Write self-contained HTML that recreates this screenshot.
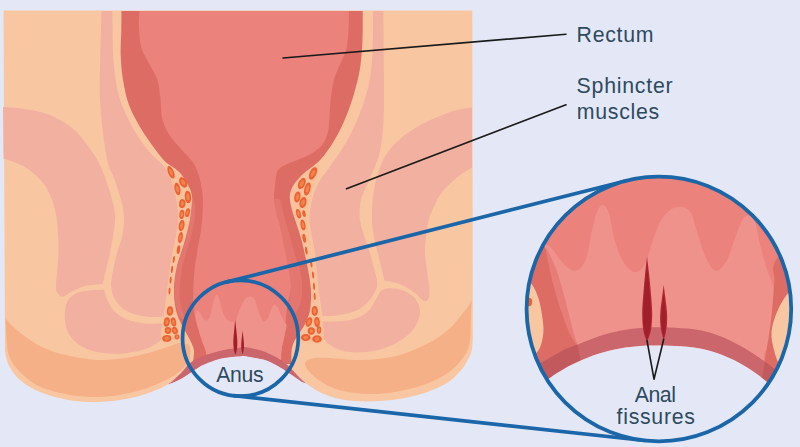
<!DOCTYPE html>
<html><head><meta charset="utf-8"><title>Anal fissures</title>
<style>
html,body{margin:0;padding:0;background:#e4e8f6;}
body{width:800px;height:447px;overflow:hidden;}
svg{display:block;}
text{font-family:"Liberation Sans",sans-serif;fill:#2d4a5e;}
</style></head><body>
<svg width="800" height="447" viewBox="0 0 800 447">
<defs>
<clipPath id="bigclip"><circle cx="658.9" cy="309" r="132.3"/></clipPath>
</defs>
<rect width="800" height="447" fill="#e4e8f6"/>
<g id="anat">
<path fill="#f9c6a2" d="M3.5,10.5L472.3,10.5L472.8,339.0C472.6,341.2 472.6,347.7 471.3,352.0C470.0,356.3 466.6,362.2 465.0,365.0C463.4,367.8 464.5,366.3 462.0,369.0C459.5,371.7 455.3,377.3 450.0,381.0C444.7,384.7 437.5,388.2 430.0,391.0C422.5,393.8 413.3,396.3 405.0,398.0C396.7,399.7 388.3,400.5 380.0,401.0C371.7,401.5 362.5,401.5 355.0,401.0C347.5,400.5 341.2,399.7 335.0,398.0C328.8,396.3 322.5,393.6 317.5,391.0C312.5,388.4 308.6,385.4 305.0,382.5C301.4,379.6 298.7,376.4 296.0,373.7C293.3,371.0 290.2,367.7 289.0,366.5L241.0,340.0L190.0,363.0C188.7,364.5 184.8,369.1 182.0,372.0C179.2,374.9 175.8,378.2 173.0,380.5C170.2,382.8 168.0,384.3 165.0,386.0C162.0,387.7 159.6,388.8 155.0,390.5C150.4,392.2 144.6,394.8 137.5,396.5C130.4,398.2 120.8,400.1 112.5,401.0C104.2,401.9 95.8,402.4 87.5,402.0C79.2,401.6 70.8,400.6 62.5,398.8C54.2,397.0 44.6,394.1 37.5,391.0C30.4,387.9 24.6,383.9 20.0,380.0C15.4,376.1 12.3,371.3 10.0,367.5C7.7,363.7 6.8,359.9 6.0,357.0C5.2,354.1 5.2,351.2 5.0,350.0L3.5,10.5Z"/>
<path fill="#f6b088" d="M5.4,318.6C7.5,320.7 12.9,326.8 18.0,331.0C23.1,335.2 29.8,340.2 35.8,343.7C41.8,347.1 47.7,349.6 53.7,351.7C59.7,353.8 66.4,355.0 71.6,356.2C76.8,357.4 80.3,358.0 85.0,358.6C89.7,359.2 93.3,360.1 100.0,360.0C106.7,359.9 116.7,359.2 125.0,358.0C133.3,356.8 142.5,354.5 150.0,352.5C157.5,350.5 163.8,348.2 170.0,346.0C176.2,343.8 184.6,340.6 187.5,339.5C188.0,341.2 190.2,346.6 190.5,350.0C190.8,353.4 189.7,358.3 189.5,360.0C188.8,361.0 186.6,364.2 185.0,366.0C183.4,367.8 182.5,369.0 180.0,371.0C177.5,373.0 174.2,375.7 170.0,378.0C165.8,380.3 160.4,382.8 155.0,385.0C149.6,387.2 144.6,389.2 137.5,391.0C130.4,392.8 120.8,395.0 112.5,396.0C104.2,397.0 95.8,397.2 87.5,396.8C79.2,396.4 70.8,395.5 62.5,393.6C54.2,391.7 44.2,388.8 37.5,385.5C30.8,382.2 26.2,377.9 22.0,374.0C17.8,370.1 14.3,365.7 12.0,362.0C9.7,358.3 8.9,356.0 8.0,352.0C7.1,348.0 6.8,340.3 6.5,338.0L5.4,318.6Z"/>
<path fill="#f6b088" d="M306.0,361.5C307.2,360.2 308.5,358.8 312.5,358.2C316.5,357.6 322.9,357.7 330.0,358.0C337.1,358.3 346.7,359.9 355.0,360.0C363.3,360.1 372.5,359.6 380.0,358.8C387.5,358.0 393.7,356.8 400.0,355.0C406.3,353.2 412.0,350.7 418.0,348.0C424.0,345.3 430.5,342.3 435.8,339.0C441.1,335.7 445.8,332.2 450.0,328.3C454.2,324.4 457.6,319.7 460.8,315.8C464.0,311.9 467.2,307.6 469.0,305.0C470.8,302.4 471.1,300.8 471.5,300.0C471.4,303.3 471.0,313.7 470.8,320.0C470.6,326.3 470.8,333.2 470.3,338.0C469.8,342.8 469.3,345.6 468.0,349.0C466.7,352.4 465.5,354.8 462.5,358.5C459.5,362.2 455.4,367.5 450.0,371.5C444.6,375.5 437.5,379.4 430.0,382.5C422.5,385.6 413.3,388.1 405.0,390.0C396.7,391.9 388.3,393.3 380.0,393.8C371.7,394.3 362.5,393.8 355.0,393.0C347.5,392.2 340.8,390.8 335.0,388.8C329.2,386.8 324.2,383.7 320.0,381.0C315.8,378.3 312.4,375.0 310.0,372.5C307.6,370.0 306.2,367.8 305.5,366.0C304.8,364.2 304.8,362.8 306.0,361.5Z"/>
<path fill="#f2b0a0" d="M3.0,107.0C6.7,107.3 17.2,107.7 25.0,109.0C32.8,110.3 42.2,111.8 50.0,115.0C57.8,118.2 66.2,123.5 72.0,128.0C77.8,132.5 80.5,136.2 85.0,142.0C89.5,147.8 95.2,155.7 99.0,163.0C102.8,170.3 105.6,178.8 108.0,186.0C110.4,193.2 112.4,200.2 113.6,206.0C114.8,211.8 115.6,213.2 115.0,221.0C114.4,228.8 111.8,243.8 110.0,253.0C108.2,262.2 105.7,270.8 104.5,276.0C103.3,281.2 103.2,282.7 103.0,284.0C100.3,284.3 92.2,284.4 87.0,285.6C81.8,286.9 75.5,289.9 72.0,291.5C68.5,293.1 67.8,294.4 66.0,295.3C64.2,296.2 62.8,296.9 61.5,296.6C60.2,296.3 58.9,295.3 58.0,293.5C57.1,291.7 55.9,292.8 56.0,286.0C56.1,279.2 58.3,263.8 58.5,253.0C58.7,242.2 58.1,229.8 57.0,221.0C55.9,212.2 54.3,206.3 52.0,200.0C49.7,193.7 47.5,188.5 43.0,183.0C38.5,177.5 31.6,171.1 25.0,167.0C18.4,162.9 7.1,159.9 3.5,158.5L3.0,107.0Z"/>
<path fill="#f2b0a0" d="M101.5,11.0L112.3,11.0C112.3,14.2 112.4,21.7 112.6,30.0C112.8,38.3 112.6,50.5 113.5,61.0C114.4,71.5 115.7,83.2 118.0,92.7C120.3,102.2 123.9,110.0 127.6,117.8C131.3,125.6 135.8,133.4 140.0,139.7C144.2,146.0 148.8,151.0 152.7,155.4C156.6,159.8 160.8,162.4 163.7,166.0C166.6,169.6 168.2,173.0 170.0,177.0C171.8,181.0 173.2,185.2 174.5,190.0C175.8,194.8 176.9,200.8 177.5,206.0C178.1,211.2 178.2,215.8 178.0,221.0C177.8,226.2 176.9,231.7 176.0,237.0C175.1,242.3 173.5,247.8 172.5,253.0C171.5,258.2 170.8,262.8 170.0,268.0C169.2,273.2 168.7,278.7 168.0,284.0C167.3,289.3 166.6,294.6 166.0,300.0C165.4,305.4 164.8,313.8 164.5,316.5C162.0,316.6 154.8,317.4 149.7,317.0C144.6,316.6 138.7,315.6 134.0,314.0C129.3,312.4 124.9,310.3 121.5,307.5C118.1,304.7 115.5,300.6 113.7,297.0C112.0,293.4 111.5,287.8 111.0,286.0C111.2,284.3 111.0,281.5 112.0,276.0C113.0,270.5 115.3,259.5 117.0,253.0C118.7,246.5 120.8,242.3 122.0,237.0C123.2,231.7 123.9,226.2 124.0,221.0C124.1,215.8 123.5,211.2 122.5,206.0C121.5,200.8 119.5,194.8 118.0,190.0C116.5,185.2 115.1,181.0 113.6,177.0C112.1,173.0 110.1,170.2 108.8,166.0C107.5,161.8 106.8,159.0 105.7,152.0C104.6,145.0 103.0,133.9 102.0,124.0C101.0,114.1 99.9,103.2 99.6,92.7C99.3,82.2 100.0,71.5 100.2,61.0C100.4,50.5 100.8,38.3 101.0,30.0C101.2,21.7 101.4,14.2 101.5,11.0Z"/>
<path fill="#f2b0a0" d="M64.8,315.0C64.8,310.1 65.4,305.2 67.4,301.5C69.4,297.8 73.0,294.8 76.8,293.0C80.6,291.2 85.5,291.1 90.0,290.5C94.5,289.9 101.7,289.7 104.0,289.5C104.5,291.1 105.3,295.4 107.0,299.0C108.7,302.6 110.7,307.6 114.0,311.0C117.3,314.4 121.8,317.4 127.0,319.5C132.2,321.6 139.3,322.8 145.0,323.5C150.7,324.2 157.8,323.4 161.0,323.6C164.2,323.9 163.5,324.8 164.0,325.0C164.1,326.4 165.6,330.7 164.5,333.7C163.4,336.7 161.3,340.2 157.4,343.0C153.5,345.8 148.0,348.5 141.3,350.3C134.6,352.1 125.0,353.7 117.0,353.8C109.0,353.9 99.7,352.8 93.0,351.0C86.3,349.2 81.1,346.3 76.8,343.0C72.5,339.7 69.4,335.7 67.4,331.0C65.4,326.3 64.8,319.9 64.8,315.0Z"/>
<path fill="#f2b0a0" d="M472.0,107.5C469.4,107.9 462.9,108.2 456.7,110.0C450.5,111.8 441.6,115.1 434.8,118.0C428.0,120.9 422.3,123.6 416.0,127.6C409.7,131.5 402.1,137.0 397.0,141.7C391.9,146.4 388.6,150.8 385.5,155.8C382.4,160.8 380.3,166.3 378.5,171.5C376.7,176.7 375.5,181.8 374.5,187.0C373.5,192.2 372.9,197.3 372.5,203.0C372.1,208.7 371.8,215.3 372.0,221.0C372.2,226.7 373.0,231.7 374.0,237.0C375.0,242.3 376.5,247.5 377.8,253.0C379.1,258.5 380.9,265.4 382.0,270.0C383.1,274.6 384.1,278.8 384.5,280.5C387.0,281.1 394.6,281.9 399.7,284.0C404.8,286.1 411.4,290.5 415.0,293.0C418.6,295.5 419.2,297.6 421.0,299.0C422.8,300.4 424.2,301.5 425.5,301.3C426.8,301.1 427.9,299.9 428.6,298.0C429.3,296.1 429.6,293.3 429.5,290.0C429.4,286.7 428.8,284.2 428.0,278.0C427.2,271.8 425.3,259.8 425.0,253.0C424.7,246.2 425.4,242.3 426.0,237.0C426.6,231.7 427.6,225.2 428.5,221.0C429.4,216.8 429.5,216.6 431.6,212.0C433.7,207.4 436.8,199.1 441.0,193.4C445.2,187.7 451.5,182.1 456.7,177.8C461.9,173.5 469.4,169.2 472.0,167.5L472.0,107.5Z"/>
<path fill="#f2b0a0" d="M373.0,11.0L383.4,11.0C383.4,15.8 383.5,26.4 383.6,40.0C383.7,53.6 384.0,78.7 384.0,92.7C384.0,106.7 383.9,115.3 383.4,124.0C382.9,132.7 382.0,139.0 381.0,145.0C380.0,151.0 379.8,153.5 377.5,160.0C375.2,166.5 370.1,177.3 367.4,184.0C364.6,190.7 362.3,194.8 361.0,200.0C359.7,205.2 359.4,210.5 359.5,215.0C359.6,219.5 360.5,222.8 361.5,227.0C362.5,231.2 364.1,235.7 365.5,240.0C366.9,244.3 368.6,248.3 370.0,253.0C371.4,257.7 372.8,263.5 374.0,268.0C375.2,272.5 376.5,276.8 377.0,280.0C377.5,283.2 377.0,285.8 377.0,287.0C376.2,288.7 374.3,293.8 372.0,297.0C369.7,300.2 366.2,304.0 363.0,306.5C359.8,309.0 357.0,310.5 352.7,312.0C348.4,313.5 342.0,314.8 337.0,315.5C332.0,316.2 324.9,315.9 322.5,316.0C322.1,313.3 320.8,305.3 320.0,300.0C319.2,294.7 318.6,289.3 318.0,284.0C317.4,278.7 317.0,273.2 316.5,268.0C316.0,262.8 315.8,258.2 315.0,253.0C314.2,247.8 312.9,242.3 312.0,237.0C311.1,231.7 309.8,225.8 309.5,221.0C309.2,216.2 309.8,212.7 310.5,208.0C311.2,203.3 312.4,197.7 314.0,193.0C315.6,188.3 317.7,183.8 320.0,180.0C322.3,176.2 324.3,174.7 327.6,170.0C330.9,165.3 336.1,158.1 340.0,152.0C343.9,145.9 347.6,140.2 351.0,133.4C354.4,126.7 357.6,119.3 360.5,111.5C363.4,103.7 366.5,94.8 368.4,86.4C370.3,78.0 371.2,70.4 372.0,61.0C372.8,51.6 372.8,38.3 373.0,30.0C373.2,21.7 373.0,14.2 373.0,11.0Z"/>
<path fill="#f2b0a0" d="M322.5,321.5C324.3,321.5 328.4,321.8 333.4,321.5C338.3,321.2 346.6,321.0 352.2,319.5C357.8,318.0 363.2,315.6 367.0,312.5C370.8,309.4 372.8,304.4 375.0,301.0C377.2,297.6 378.6,293.9 380.0,292.0C381.4,290.1 382.9,289.9 383.5,289.5C384.8,289.3 387.7,288.0 391.0,288.2C394.3,288.4 399.1,288.7 403.2,290.5C407.2,292.3 412.5,295.2 415.3,298.8C418.1,302.4 420.2,307.3 420.0,312.2C419.8,317.1 417.2,323.6 414.0,328.3C410.8,333.0 406.3,336.8 400.5,340.4C394.7,344.0 386.6,347.8 379.0,349.8C371.4,351.8 362.2,352.7 355.0,352.5C347.8,352.3 341.2,350.8 336.0,348.5C330.8,346.2 326.4,342.4 324.0,339.0C321.6,335.6 321.6,330.9 321.3,328.0C321.1,325.1 322.3,322.6 322.5,321.5Z"/>
<path fill="#f9c29c" d="M165.0,164.5C166.7,165.4 171.7,167.4 175.0,170.0C178.3,172.6 181.7,175.8 185.0,180.0C188.3,184.2 193.2,189.2 195.0,195.0C196.8,200.8 196.8,207.5 196.0,215.0C195.2,222.5 192.0,232.5 190.0,240.0C188.0,247.5 185.7,253.3 184.0,260.0C182.3,266.7 180.7,273.3 180.0,280.0C179.3,286.7 179.3,293.7 180.0,300.0C180.7,306.3 182.7,312.7 184.0,318.0C185.3,323.3 187.0,327.5 188.0,332.0C189.0,336.5 189.7,342.8 190.0,345.0C188.5,344.7 184.0,343.2 181.0,343.0C178.0,342.8 175.1,343.8 172.0,343.6C168.9,343.4 164.1,343.8 162.3,342.0C160.5,340.2 160.8,337.1 161.0,333.0C161.2,328.9 162.6,323.1 163.4,317.6C164.2,312.1 165.2,305.6 166.0,300.0C166.8,294.4 167.3,289.3 168.0,284.0C168.7,278.7 169.2,273.2 170.0,268.0C170.8,262.8 171.5,258.2 172.5,253.0C173.5,247.8 175.1,242.3 176.0,237.0C176.9,231.7 177.8,226.2 178.0,221.0C178.2,215.8 178.1,211.2 177.5,206.0C176.9,200.8 175.8,194.8 174.5,190.0C173.2,185.2 171.6,181.2 170.0,177.0C168.4,172.8 165.8,166.6 165.0,164.5Z"/>
<path fill="#f9c29c" d="M320.0,164.0C319.6,165.9 318.8,170.8 317.5,175.7C316.2,180.6 313.4,188.0 312.0,193.6C310.6,199.2 309.4,203.4 309.0,209.0C308.6,214.6 309.0,221.8 309.5,227.0C310.0,232.2 311.2,235.3 312.0,240.0C312.8,244.7 313.8,250.3 314.5,255.0C315.2,259.7 315.5,263.2 316.0,268.0C316.5,272.8 317.0,278.7 317.5,284.0C318.0,289.3 318.5,295.2 319.0,300.0C319.5,304.8 319.7,308.2 320.5,313.0C321.3,317.8 323.3,324.2 323.6,329.0C323.9,333.8 324.4,339.6 322.5,342.0C320.6,344.4 315.9,343.6 312.0,343.6C308.1,343.6 301.2,342.3 299.0,342.0C298.3,340.0 294.8,334.5 295.0,330.0C295.2,325.5 298.5,320.0 300.0,315.0C301.5,310.0 303.3,305.8 304.0,300.0C304.7,294.2 304.7,286.7 304.0,280.0C303.3,273.3 301.5,266.7 300.0,260.0C298.5,253.3 297.0,246.7 295.0,240.0C293.0,233.3 289.7,226.7 288.0,220.0C286.3,213.3 285.0,205.8 285.0,200.0C285.0,194.2 285.5,189.7 288.0,185.0C290.5,180.3 294.7,175.5 300.0,172.0C305.3,168.5 316.7,165.3 320.0,164.0Z"/>
<path fill="#dd6c64" d="M121.5,11.0C121.5,14.2 121.4,22.7 121.3,30.0C121.2,37.3 120.4,46.7 120.7,55.0C121.0,63.3 121.6,71.7 123.0,80.0C124.4,88.3 126.2,97.2 129.0,105.0C131.8,112.8 136.1,120.2 140.0,127.0C143.9,133.8 148.5,140.2 152.7,146.0C156.9,151.8 161.3,157.8 165.0,161.5C168.7,165.2 172.1,166.1 175.0,168.5C177.9,170.9 179.9,172.2 182.5,176.0C185.1,179.8 189.2,186.2 190.8,191.0C192.4,195.8 192.5,199.8 192.3,205.0C192.1,210.2 190.7,216.2 189.5,222.0C188.3,227.8 186.4,234.8 185.0,240.0C183.6,245.2 182.2,249.0 181.0,253.0C179.8,257.0 178.5,260.0 177.5,264.0C176.5,268.0 175.6,272.7 175.0,277.0C174.4,281.3 174.0,285.3 174.0,290.0C174.0,294.7 174.2,300.3 175.0,305.0C175.8,309.7 176.9,313.8 178.5,318.0C180.1,322.2 182.5,326.2 184.5,330.0C186.5,333.8 188.9,337.5 190.5,341.0C192.1,344.5 193.7,347.2 194.0,351.0C194.3,354.8 192.8,361.8 192.5,364.0L291.5,364.0C291.5,362.0 291.2,355.5 291.5,352.0C291.8,348.5 292.2,346.2 293.5,343.0C294.8,339.8 297.5,336.3 299.5,333.0C301.5,329.7 303.8,326.8 305.5,323.0C307.2,319.2 309.1,315.2 310.0,310.0C310.9,304.8 311.2,297.8 311.0,292.0C310.8,286.2 310.0,281.2 309.0,275.0C308.0,268.8 306.2,260.5 305.0,255.0C303.8,249.5 303.1,246.2 302.0,242.0C300.9,237.8 299.8,234.0 298.5,230.0C297.2,226.0 295.7,221.7 294.5,218.0C293.3,214.3 292.3,211.7 291.5,208.0C290.7,204.3 289.5,199.8 289.8,196.0C290.1,192.2 291.2,188.7 293.5,185.0C295.8,181.3 300.4,176.6 303.5,173.6C306.6,170.6 309.1,169.4 312.0,167.0C314.9,164.6 317.9,162.5 321.0,159.0C324.1,155.5 327.6,150.8 330.8,146.0C334.0,141.2 337.1,135.8 340.0,130.0C342.9,124.2 345.6,117.7 348.0,111.5C350.4,105.3 352.4,99.5 354.3,92.7C356.2,85.9 358.3,78.1 359.6,70.8C360.9,63.5 361.5,55.6 362.0,48.8C362.5,42.0 362.6,36.3 362.7,30.0C362.8,23.7 362.7,14.2 362.7,11.0L121.5,11.0Z"/>
<path fill="#e3776f" d="M192.3,200.0C191.5,202.7 191.1,214.3 190.0,221.0C188.9,227.7 186.9,234.7 185.5,240.0C184.1,245.3 182.8,249.0 181.5,253.0C180.2,257.0 179.0,260.0 178.0,264.0C177.0,268.0 176.1,272.7 175.5,277.0C174.9,281.3 174.4,285.3 174.5,290.0C174.6,294.7 175.1,300.3 176.0,305.0C176.9,309.7 179.3,315.8 180.0,318.0C180.8,318.0 184.4,320.5 184.5,318.0C184.6,315.5 181.3,307.7 180.5,303.0C179.7,298.3 179.4,294.7 179.5,290.0C179.6,285.3 180.3,279.7 181.0,275.0C181.7,270.3 182.5,266.2 183.5,262.0C184.5,257.8 185.8,254.2 187.0,250.0C188.2,245.8 189.8,242.0 191.0,237.0C192.2,232.0 193.8,225.3 194.5,220.0C195.2,214.7 195.4,208.3 195.0,205.0C194.6,201.7 193.1,197.3 192.3,200.0Z"/>
<path fill="#e3776f" d="M273.0,200.0C272.3,202.0 274.8,207.7 276.0,212.0C277.2,216.3 278.8,221.3 280.0,226.0C281.2,230.7 282.0,235.2 283.0,240.0C284.0,244.8 285.0,250.0 286.0,255.0C287.0,260.0 288.2,265.0 289.0,270.0C289.8,275.0 290.8,280.3 291.0,285.0C291.2,289.7 290.5,294.2 290.0,298.0C289.5,301.8 288.3,306.3 288.0,308.0C289.3,308.7 293.8,313.3 296.0,312.0C298.2,310.7 300.0,304.5 301.0,300.0C302.0,295.5 302.2,290.0 302.0,285.0C301.8,280.0 301.2,275.0 300.0,270.0C298.8,265.0 296.5,260.0 295.0,255.0C293.5,250.0 292.3,244.8 291.0,240.0C289.7,235.2 288.3,230.7 287.0,226.0C285.7,221.3 284.2,216.3 283.0,212.0C281.8,207.7 281.7,202.0 280.0,200.0C278.3,198.0 273.7,198.0 273.0,200.0Z"/>
<path fill="#eb827b" d="M139.5,11.0C139.4,14.2 138.6,23.7 139.0,30.0C139.4,36.3 139.9,43.0 141.7,48.8C143.5,54.5 147.0,59.3 149.6,64.5C152.2,69.7 155.6,74.2 157.4,80.0C159.2,85.8 159.7,92.7 160.5,99.0C161.3,105.3 160.7,112.1 162.0,117.8C163.3,123.5 165.2,128.2 168.4,133.4C171.6,138.6 177.0,144.3 181.0,149.0C185.0,153.7 189.7,157.7 192.5,161.7C195.3,165.7 196.5,168.8 198.0,173.0C199.5,177.2 200.7,182.5 201.5,187.0C202.3,191.5 202.8,195.3 203.0,200.0C203.2,204.7 202.8,210.0 202.5,215.0C202.2,220.0 201.8,224.2 201.0,230.0C200.2,235.8 198.6,243.3 197.5,250.0C196.4,256.7 195.2,263.3 194.5,270.0C193.8,276.7 193.5,284.2 193.3,290.0C193.1,295.8 192.9,300.0 193.3,305.0C193.7,310.0 194.1,314.0 195.5,320.0C196.9,326.0 200.2,335.7 202.0,341.0C203.8,346.3 205.2,348.2 206.0,352.0C206.8,355.8 206.8,362.0 207.0,364.0L281.0,364.0C281.1,361.6 281.0,354.3 281.6,349.5C282.2,344.7 283.8,341.4 284.6,335.0C285.4,328.6 286.0,316.8 286.6,311.0C287.2,305.2 287.8,304.0 288.5,300.0C289.2,296.0 290.9,292.0 291.0,287.0C291.1,282.0 289.8,275.3 289.0,270.0C288.2,264.7 287.0,260.0 286.0,255.0C285.0,250.0 284.0,244.8 283.0,240.0C282.0,235.2 281.2,230.7 280.0,226.0C278.8,221.3 277.0,216.3 276.0,212.0C275.0,207.7 274.2,204.3 274.0,200.0C273.8,195.7 274.4,190.8 275.0,186.0C275.6,181.2 275.9,174.4 277.5,171.0C279.1,167.6 281.4,167.1 284.3,165.4C287.2,163.7 291.4,162.5 295.0,161.0C298.6,159.5 302.3,158.2 305.8,156.5C309.3,154.8 313.0,152.8 316.0,150.5C319.0,148.2 321.9,145.9 324.0,142.5C326.1,139.1 327.4,134.6 328.3,130.0C329.2,125.4 329.2,120.2 329.6,115.0C330.0,109.8 330.1,104.8 330.8,99.0C331.5,93.2 332.5,85.8 334.0,80.0C335.5,74.2 337.9,69.7 340.0,64.5C342.1,59.3 345.0,54.5 346.4,48.8C347.8,43.0 348.1,36.3 348.5,30.0C348.9,23.7 348.9,14.2 349.0,11.0L139.5,11.0Z"/>
<path fill="#ef928b" d="M207.0,364.0C206.8,362.0 206.8,355.8 206.0,352.0C205.2,348.2 203.4,345.5 202.0,341.0C200.6,336.5 198.6,329.3 197.5,325.0C196.4,320.7 195.6,317.4 195.5,315.0C195.4,312.6 196.2,310.8 197.0,310.5C197.8,310.2 199.0,311.8 200.0,313.0C201.0,314.2 202.0,316.8 203.0,318.0C204.0,319.2 204.9,320.5 206.0,320.5C207.1,320.5 208.5,320.1 209.5,318.0C210.5,315.9 211.2,311.2 212.0,308.0C212.8,304.8 213.3,301.2 214.0,299.0C214.7,296.8 215.6,295.2 216.4,295.0C217.2,294.8 218.2,295.8 219.0,298.0C219.8,300.2 220.6,305.0 221.5,308.0C222.4,311.0 223.4,313.9 224.5,316.0C225.6,318.1 226.8,319.5 228.0,320.5C229.2,321.5 230.7,322.2 232.0,322.0C233.3,321.8 234.7,321.2 236.0,319.0C237.3,316.8 238.7,312.1 240.0,309.0C241.3,305.9 242.7,302.5 244.0,300.5C245.3,298.5 246.8,297.6 248.0,297.0C249.2,296.4 250.3,296.5 251.5,297.0C252.7,297.5 253.9,297.8 255.0,300.0C256.1,302.2 257.0,307.0 258.0,310.0C259.0,313.0 260.0,316.1 261.0,318.0C262.0,319.9 262.8,321.5 264.0,321.5C265.2,321.5 266.8,319.9 268.0,318.0C269.2,316.1 270.2,312.1 271.0,310.0C271.8,307.9 272.2,306.3 273.0,305.5C273.8,304.7 274.7,304.6 275.5,305.0C276.3,305.4 277.1,306.3 278.0,308.0C278.9,309.7 279.9,312.7 281.0,315.0C282.1,317.3 283.6,320.2 284.5,322.0C285.4,323.8 286.6,323.8 286.6,326.0C286.6,328.2 285.4,331.1 284.6,335.0C283.8,338.9 282.2,344.7 281.6,349.5C281.0,354.3 281.1,361.6 281.0,364.0L207.0,364.0Z"/>
<path fill="#cb666c" d="M168.0,384.5C168.8,383.8 170.7,382.6 173.0,380.5C175.3,378.4 179.2,374.9 182.0,372.0C184.8,369.1 186.4,365.7 190.0,363.0C193.6,360.3 198.4,357.9 203.7,355.8C209.0,353.7 215.4,351.8 221.6,350.4C227.8,349.0 236.6,347.9 241.0,347.4C245.4,346.9 243.9,346.7 248.0,347.5C252.1,348.3 260.5,350.2 265.8,352.2C271.1,354.2 276.1,357.0 280.0,359.4C283.9,361.8 286.3,364.1 289.0,366.5C291.7,368.9 294.0,371.6 296.0,373.7C298.0,375.8 299.3,377.4 301.0,379.0C302.7,380.6 305.2,382.8 306.0,383.5C305.2,383.2 303.3,383.0 301.5,382.0C299.7,381.0 297.1,378.9 295.0,377.5C292.9,376.1 291.5,375.1 289.0,373.5C286.5,371.9 283.9,369.8 280.0,367.6C276.1,365.4 271.1,362.3 265.8,360.5C260.5,358.7 252.1,357.6 248.0,356.9C243.9,356.2 245.4,356.1 241.0,356.4C236.6,356.7 227.8,357.3 221.6,358.7C215.4,360.1 208.2,363.0 203.7,364.9C199.2,366.8 197.7,368.3 194.7,370.2C191.7,372.1 188.8,374.3 185.8,376.2C182.8,378.1 179.8,379.9 176.8,381.3C173.8,382.7 169.5,384.0 168.0,384.5Z"/>
<path fill="#e4e8f6" d="M155.0,391.5L168.0,384.8C169.5,384.2 173.8,382.6 176.8,381.1C179.8,379.6 182.8,377.9 185.8,376.0C188.8,374.1 191.7,371.9 194.7,370.0C197.7,368.1 199.2,366.6 203.7,364.7C208.2,362.8 215.4,359.9 221.6,358.5C227.8,357.1 236.6,356.5 241.0,356.2C245.4,355.9 243.9,356.0 248.0,356.7C252.1,357.4 260.5,358.5 265.8,360.3C271.1,362.1 276.1,365.2 280.0,367.4C283.9,369.6 286.5,371.6 289.0,373.3C291.5,375.0 292.9,375.9 295.0,377.3C297.1,378.7 299.7,380.7 301.5,381.8C303.3,382.9 305.2,383.5 306.0,383.8L318.0,392.0L318.0,410.0L164.0,410.0L155.0,391.5Z"/>
<path fill="#a01f2a" d="M235.2,319.0C235.3,320.5 235.8,324.8 236.1,328.0C236.4,331.2 236.9,335.2 237.1,338.0C237.3,340.8 237.4,342.8 237.3,345.0C237.2,347.2 236.9,349.3 236.6,351.0C236.3,352.7 235.6,354.3 235.4,355.0C235.2,354.3 234.5,352.7 234.2,351.0C233.9,349.3 233.5,347.2 233.4,345.0C233.3,342.8 233.3,340.8 233.5,338.0C233.7,335.2 234.1,331.2 234.4,328.0C234.7,324.8 235.1,320.5 235.2,319.0Z"/>
<path fill="#a01f2a" d="M242.6,330.5C242.7,331.6 243.1,334.9 243.3,337.0C243.5,339.1 243.8,341.2 243.9,343.0C244.0,344.8 244.0,346.5 243.9,348.0C243.8,349.5 243.5,350.9 243.3,352.0C243.1,353.1 242.7,354.1 242.6,354.5C242.5,354.1 242.1,353.1 241.9,352.0C241.7,350.9 241.4,349.5 241.3,348.0C241.2,346.5 241.2,344.8 241.3,343.0C241.4,341.2 241.7,339.1 241.9,337.0C242.1,334.9 242.5,331.6 242.6,330.5Z"/>
<g fill="#ec6232"><ellipse cx="171.0" cy="172.3" rx="2.9" ry="6.7" transform="rotate(-22 171.0 172.3)"/><ellipse cx="177.4" cy="189.0" rx="2.9" ry="6.3" transform="rotate(-12 177.4 189.0)"/><ellipse cx="183.2" cy="182.4" rx="3.6" ry="5.6" transform="rotate(-28 183.2 182.4)"/><ellipse cx="188.0" cy="197.0" rx="3.2" ry="6.3" transform="rotate(-6 188.0 197.0)"/><ellipse cx="182.3" cy="203.6" rx="3.2" ry="4.5" transform="rotate(8 182.3 203.6)"/><ellipse cx="187.6" cy="212.6" rx="2.3" ry="4.5" transform="rotate(14 187.6 212.6)"/><ellipse cx="181.8" cy="214.4" rx="2.5" ry="4.7" transform="rotate(8 181.8 214.4)"/><ellipse cx="181.6" cy="225.6" rx="2.9" ry="5.6" transform="rotate(10 181.6 225.6)"/><ellipse cx="180.5" cy="237.6" rx="2.3" ry="5.6" transform="rotate(10 180.5 237.6)"/><ellipse cx="178.5" cy="249.6" rx="1.7" ry="4.5" transform="rotate(8 178.5 249.6)"/><ellipse cx="173.8" cy="259.5" rx="1.0" ry="3.6" transform="rotate(8 173.8 259.5)"/><ellipse cx="172.0" cy="269.4" rx="1.0" ry="3.6" transform="rotate(6 172.0 269.4)"/><ellipse cx="170.6" cy="280.0" rx="1.0" ry="3.6" transform="rotate(4 170.6 280.0)"/><ellipse cx="169.5" cy="291.0" rx="1.0" ry="3.6" transform="rotate(3 169.5 291.0)"/><ellipse cx="170.0" cy="311.0" rx="3.2" ry="4.7" transform="rotate(5 170.0 311.0)"/><ellipse cx="166.8" cy="322.0" rx="3.0" ry="4.7" transform="rotate(10 166.8 322.0)"/><ellipse cx="173.5" cy="322.0" rx="2.6" ry="4.7" transform="rotate(-12 173.5 322.0)"/><ellipse cx="168.0" cy="330.5" rx="3.3" ry="3.4" transform="rotate(0 168.0 330.5)"/><ellipse cx="174.8" cy="330.5" rx="2.9" ry="3.8" transform="rotate(-20 174.8 330.5)"/><ellipse cx="166.8" cy="338.4" rx="4.6" ry="3.4" transform="rotate(-5 166.8 338.4)"/><ellipse cx="177.0" cy="336.8" rx="2.5" ry="2.6" transform="rotate(0 177.0 336.8)"/><ellipse cx="313.0" cy="173.4" rx="3.4" ry="6.7" transform="rotate(25 313.0 173.4)"/><ellipse cx="301.8" cy="183.5" rx="3.4" ry="6.0" transform="rotate(25 301.8 183.5)"/><ellipse cx="307.4" cy="189.0" rx="3.1" ry="6.7" transform="rotate(15 307.4 189.0)"/><ellipse cx="297.4" cy="197.0" rx="3.1" ry="5.6" transform="rotate(10 297.4 197.0)"/><ellipse cx="303.0" cy="202.5" rx="3.4" ry="5.6" transform="rotate(15 303.0 202.5)"/><ellipse cx="298.5" cy="213.7" rx="2.3" ry="4.9" transform="rotate(-15 298.5 213.7)"/><ellipse cx="304.0" cy="213.7" rx="1.7" ry="3.4" transform="rotate(-10 304.0 213.7)"/><ellipse cx="303.0" cy="225.0" rx="2.5" ry="5.6" transform="rotate(-10 303.0 225.0)"/><ellipse cx="304.2" cy="238.3" rx="1.7" ry="4.5" transform="rotate(-10 304.2 238.3)"/><ellipse cx="306.3" cy="250.6" rx="1.2" ry="4.0" transform="rotate(-8 306.3 250.6)"/><ellipse cx="311.3" cy="264.0" rx="1.0" ry="3.6" transform="rotate(-8 311.3 264.0)"/><ellipse cx="313.0" cy="275.0" rx="1.0" ry="3.6" transform="rotate(-6 313.0 275.0)"/><ellipse cx="314.0" cy="286.3" rx="1.0" ry="3.6" transform="rotate(-4 314.0 286.3)"/><ellipse cx="314.7" cy="296.4" rx="1.0" ry="3.6" transform="rotate(-3 314.7 296.4)"/><ellipse cx="314.7" cy="311.0" rx="3.2" ry="5.0" transform="rotate(0 314.7 311.0)"/><ellipse cx="309.0" cy="322.0" rx="3.1" ry="5.0" transform="rotate(20 309.0 322.0)"/><ellipse cx="317.0" cy="322.0" rx="2.8" ry="5.0" transform="rotate(-5 317.0 322.0)"/><ellipse cx="311.3" cy="331.0" rx="3.6" ry="3.7" transform="rotate(0 311.3 331.0)"/><ellipse cx="319.0" cy="330.0" rx="2.3" ry="3.7" transform="rotate(0 319.0 330.0)"/><ellipse cx="305.7" cy="337.5" rx="4.8" ry="3.4" transform="rotate(0 305.7 337.5)"/><ellipse cx="317.0" cy="339.0" rx="4.8" ry="3.7" transform="rotate(0 317.0 339.0)"/></g><g fill="#f3824c"><ellipse cx="171.0" cy="172.3" rx="1.4" ry="3.7" transform="rotate(-22 171.0 172.3)"/><ellipse cx="177.4" cy="189.0" rx="1.4" ry="3.4" transform="rotate(-12 177.4 189.0)"/><ellipse cx="183.2" cy="182.4" rx="1.8" ry="3.1" transform="rotate(-28 183.2 182.4)"/><ellipse cx="188.0" cy="197.0" rx="1.6" ry="3.4" transform="rotate(-6 188.0 197.0)"/><ellipse cx="182.3" cy="203.6" rx="1.6" ry="2.5" transform="rotate(8 182.3 203.6)"/><ellipse cx="187.6" cy="212.6" rx="1.1" ry="2.5" transform="rotate(14 187.6 212.6)"/><ellipse cx="181.8" cy="214.4" rx="1.3" ry="2.6" transform="rotate(8 181.8 214.4)"/><ellipse cx="181.6" cy="225.6" rx="1.4" ry="3.1" transform="rotate(10 181.6 225.6)"/><ellipse cx="180.5" cy="237.6" rx="1.1" ry="3.1" transform="rotate(10 180.5 237.6)"/><ellipse cx="170.0" cy="311.0" rx="1.6" ry="2.6" transform="rotate(5 170.0 311.0)"/><ellipse cx="166.8" cy="322.0" rx="1.5" ry="2.6" transform="rotate(10 166.8 322.0)"/><ellipse cx="173.5" cy="322.0" rx="1.3" ry="2.6" transform="rotate(-12 173.5 322.0)"/><ellipse cx="168.0" cy="330.5" rx="1.7" ry="1.8" transform="rotate(0 168.0 330.5)"/><ellipse cx="174.8" cy="330.5" rx="1.4" ry="2.1" transform="rotate(-20 174.8 330.5)"/><ellipse cx="166.8" cy="338.4" rx="2.3" ry="1.8" transform="rotate(-5 166.8 338.4)"/><ellipse cx="177.0" cy="336.8" rx="1.3" ry="1.4" transform="rotate(0 177.0 336.8)"/><ellipse cx="313.0" cy="173.4" rx="1.7" ry="3.7" transform="rotate(25 313.0 173.4)"/><ellipse cx="301.8" cy="183.5" rx="1.7" ry="3.3" transform="rotate(25 301.8 183.5)"/><ellipse cx="307.4" cy="189.0" rx="1.6" ry="3.7" transform="rotate(15 307.4 189.0)"/><ellipse cx="297.4" cy="197.0" rx="1.6" ry="3.1" transform="rotate(10 297.4 197.0)"/><ellipse cx="303.0" cy="202.5" rx="1.7" ry="3.1" transform="rotate(15 303.0 202.5)"/><ellipse cx="298.5" cy="213.7" rx="1.1" ry="2.7" transform="rotate(-15 298.5 213.7)"/><ellipse cx="303.0" cy="225.0" rx="1.3" ry="3.1" transform="rotate(-10 303.0 225.0)"/><ellipse cx="314.7" cy="311.0" rx="1.6" ry="2.8" transform="rotate(0 314.7 311.0)"/><ellipse cx="309.0" cy="322.0" rx="1.6" ry="2.8" transform="rotate(20 309.0 322.0)"/><ellipse cx="317.0" cy="322.0" rx="1.4" ry="2.8" transform="rotate(-5 317.0 322.0)"/><ellipse cx="311.3" cy="331.0" rx="1.8" ry="2.0" transform="rotate(0 311.3 331.0)"/><ellipse cx="319.0" cy="330.0" rx="1.1" ry="2.0" transform="rotate(0 319.0 330.0)"/><ellipse cx="305.7" cy="337.5" rx="2.4" ry="1.8" transform="rotate(0 305.7 337.5)"/><ellipse cx="317.0" cy="339.0" rx="2.4" ry="2.0" transform="rotate(0 317.0 339.0)"/></g>
</g>
<!-- label leader lines -->
<g stroke="#1a1a1a" stroke-width="1.6" fill="none" stroke-linecap="round">
<line x1="283" y1="58" x2="566" y2="34.2"/>
<line x1="346.5" y1="188.7" x2="566" y2="104.8"/>
</g>
<text x="576.6" y="41.8" font-size="21.3" letter-spacing="0.7">Rectum</text>
<text x="576.6" y="92.9" font-size="21.3" letter-spacing="0.75">Sphincter</text>
<text x="576.8" y="119.3" font-size="21.3" letter-spacing="0.7">muscles</text>
<text x="239.7" y="381.9" font-size="21.2" letter-spacing="-0.3" text-anchor="middle">Anus</text>
<!-- zoom connectors -->
<g stroke="#1a66a8" stroke-width="3.7" fill="none" stroke-linecap="round">
<line x1="226.2" y1="282.1" x2="626.4" y2="180.7"/>
<line x1="234.1" y1="395.7" x2="644.5" y2="440.5"/>
<circle cx="240.4" cy="338.2" r="57.85"/>
</g>
<!-- magnified view -->
<circle cx="658.9" cy="309" r="132.3" fill="#eb827b"/>
<g clip-path="url(#bigclip)">
<path fill="#ef928b" d="M520.0,470.0L520.0,250.0C523.3,249.3 535.5,246.8 540.0,246.0C544.5,245.2 544.5,244.2 546.8,245.0C549.1,245.8 550.8,247.3 553.6,250.5C556.4,253.7 560.0,260.6 563.6,264.0C567.2,267.4 571.8,271.3 575.4,270.7C579.0,270.1 582.6,267.3 585.4,260.6C588.2,253.9 590.1,238.5 592.0,230.4C593.9,222.3 595.2,216.2 597.0,212.0C598.8,207.8 600.6,205.0 602.5,205.0C604.4,205.0 606.6,206.7 608.5,212.0C610.4,217.3 612.0,229.5 614.0,237.0C616.0,244.5 618.4,251.8 620.7,257.0C623.0,262.2 625.5,265.5 628.0,268.0C630.5,270.5 633.2,272.7 636.0,272.0C638.8,271.3 642.2,269.3 645.0,264.0C647.8,258.7 650.3,247.3 653.0,240.0C655.7,232.7 658.0,225.1 661.0,220.0C664.0,214.9 667.5,211.7 671.0,209.5C674.5,207.3 678.7,206.4 682.0,207.0C685.3,207.6 688.3,208.3 691.0,213.0C693.7,217.7 695.5,227.5 698.0,235.0C700.5,242.5 703.1,252.1 706.0,258.0C708.9,263.9 712.1,270.0 715.4,270.7C718.7,271.4 722.6,267.6 726.0,262.0C729.4,256.4 732.8,244.0 735.5,237.0C738.2,230.0 740.2,223.6 742.5,220.0C744.8,216.4 746.9,215.0 749.0,215.3C751.1,215.6 753.0,216.7 755.0,222.0C757.0,227.3 758.6,238.9 760.7,247.0C762.8,255.1 765.4,264.5 767.4,270.7C769.4,276.9 771.1,278.4 772.5,284.0C773.9,289.6 775.5,298.0 775.8,304.0C776.0,310.0 774.8,314.8 774.0,320.0C773.2,325.2 772.2,330.0 771.0,335.0C769.8,340.0 768.2,345.2 767.0,350.0C765.8,354.8 764.5,344.0 764.0,364.0C763.5,384.0 764.0,452.3 764.0,470.0L520.0,470.0Z"/>
<path fill="#dd6c64" d="M520.0,230.0C523.3,231.7 535.8,237.0 540.0,240.0C544.2,243.0 543.6,243.6 545.3,248.0C547.0,252.4 548.2,259.9 550.0,266.3C551.8,272.7 554.3,280.3 556.3,286.6C558.3,292.9 559.8,298.4 561.8,304.0C563.8,309.6 566.0,314.7 568.0,320.0C570.0,325.3 572.1,331.7 573.7,336.0C575.3,340.3 576.5,341.0 577.5,346.0C578.5,351.0 579.6,362.7 580.0,366.0L520.0,400.0L520.0,230.0Z"/>
<path fill="#e67d76" d="M545.5,247.5C546.2,251.2 548.2,262.7 549.8,270.0C551.4,277.3 553.0,284.2 555.0,291.4C557.0,298.5 559.3,305.8 561.8,312.9C564.3,320.0 567.4,328.8 570.0,334.3C572.6,339.8 576.2,344.1 577.5,346.0C577.1,344.8 576.1,341.8 575.3,339.0C574.5,336.2 573.7,333.4 572.6,329.0C571.5,324.6 570.1,319.2 568.5,312.9C566.9,306.6 565.0,298.5 563.0,291.4C561.0,284.2 558.9,276.6 556.5,270.0C554.1,263.4 550.3,255.8 548.5,252.0C546.7,248.2 546.0,248.2 545.5,247.5Z"/>
<path fill="#dd6c64" d="M800.0,230.0C795.8,235.3 779.2,253.7 775.0,262.0C770.8,270.3 774.9,273.3 774.5,280.0C774.1,286.7 773.4,294.9 772.7,302.4C772.0,309.8 771.5,317.3 770.5,324.7C769.5,332.1 768.0,340.6 767.0,347.0C766.0,353.4 765.3,357.5 764.5,363.0C763.7,368.5 762.4,377.2 762.0,380.0L800.0,400.0L800.0,230.0Z"/>
<path fill="#f9c6a2" d="M515.0,280.0C517.0,280.2 523.9,279.9 527.0,281.0C530.1,282.1 531.6,284.0 533.4,286.7C535.2,289.4 536.7,293.3 538.0,297.0C539.3,300.7 540.1,303.7 541.0,309.0C541.9,314.3 543.5,323.0 543.5,329.0C543.5,335.0 542.3,340.9 541.0,345.0C539.7,349.1 537.9,351.6 535.7,353.8C533.5,356.0 531.5,357.3 528.0,358.0C524.5,358.7 517.2,358.0 515.0,358.0L515.0,280.0Z"/>
<ellipse cx="529" cy="302" rx="3.2" ry="4.2" fill="#ec6232"/>
<path fill="#f9c6a2" d="M805.0,290.0C802.8,290.2 795.2,290.6 792.0,291.5C788.8,292.4 788.3,292.8 786.0,295.7C783.7,298.6 780.5,304.2 778.3,309.0C776.1,313.8 773.8,319.9 772.7,324.7C771.6,329.5 771.2,333.1 771.6,338.0C772.0,342.9 773.8,349.6 775.0,353.8C776.2,358.1 777.2,361.0 779.0,363.5C780.8,366.0 781.7,367.6 786.0,369.0C790.3,370.4 801.8,371.5 805.0,372.0L805.0,290.0Z"/>
<path fill="#cb666c" d="M520.0,375.0C523.2,373.2 535.3,366.2 539.0,364.0C542.7,361.8 538.1,364.1 542.4,361.7C546.7,359.3 558.8,352.3 564.7,349.4C570.6,346.5 572.4,346.5 578.0,344.4C583.6,342.2 591.3,338.8 598.3,336.5C605.3,334.2 613.0,332.2 620.0,330.8C627.0,329.4 634.2,328.6 640.0,328.0C645.8,327.4 649.2,327.2 655.0,327.2C660.8,327.2 667.5,327.3 675.0,327.8C682.5,328.3 692.1,328.7 700.0,330.2C707.9,331.7 714.9,334.0 722.4,337.0C729.9,340.0 737.6,344.1 744.7,348.2C751.8,352.3 760.1,358.3 765.0,361.7C769.9,365.1 768.0,363.3 773.8,368.4C779.6,373.4 795.6,388.1 800.0,392.0 L800.0,420.0C795.8,415.0 781.2,396.9 775.0,390.0C768.8,383.1 767.6,382.4 762.6,378.4C757.6,374.4 751.4,369.9 744.7,366.0C738.0,362.1 729.9,357.9 722.4,355.0C714.9,352.1 707.9,349.9 700.0,348.4C692.1,346.9 682.5,346.5 675.0,346.0C667.5,345.5 660.8,345.5 655.0,345.5C649.2,345.5 645.8,345.5 640.0,346.0C634.2,346.5 627.0,347.1 620.0,348.4C613.0,349.7 605.3,351.6 598.3,353.8C591.3,356.0 583.6,359.3 578.0,361.7C572.4,364.1 569.5,365.6 564.7,368.4C559.9,371.2 556.5,373.1 549.0,378.4C541.5,383.7 524.8,396.4 520.0,400.0 Z"/>
<path fill="#c25a5d" d="M520,375 L539,364 L564.7,349.4 L577.5,344.6 L580.5,360.5 L564.7,368.4 L549,378.4 L520,400 Z"/>
<path fill="#c25a5d" d="M800,392 L773.8,368.4 L765,361.7 L762,378 L775,390 L800,420 Z"/>
<path fill="#e4e8f6" d="M520.0,400.0C524.8,396.4 541.5,383.7 549.0,378.4C556.5,373.1 559.9,371.2 564.7,368.4C569.5,365.6 572.4,364.1 578.0,361.7C583.6,359.3 591.3,356.0 598.3,353.8C605.3,351.6 613.0,349.7 620.0,348.4C627.0,347.1 634.2,346.5 640.0,346.0C645.8,345.5 649.2,345.5 655.0,345.5C660.8,345.5 667.5,345.5 675.0,346.0C682.5,346.5 692.1,346.9 700.0,348.4C707.9,349.9 714.9,352.1 722.4,355.0C729.9,357.9 738.0,362.1 744.7,366.0C751.4,369.9 757.6,374.4 762.6,378.4C767.6,382.4 768.8,383.1 775.0,390.0C781.2,396.9 795.8,415.0 800.0,420.0 L800,470 L520,470 Z"/>
<path fill="#b02634" d="M647.0,256.5C647.4,259.6 648.5,268.1 649.2,275.0C649.9,281.9 650.8,291.5 651.3,298.0C651.8,304.5 652.2,309.0 652.2,314.0C652.2,319.0 651.8,324.2 651.3,328.0C650.8,331.8 649.7,334.8 649.0,337.0C648.3,339.2 647.3,340.3 647.0,341.0C646.7,340.3 645.7,339.2 645.0,337.0C644.3,334.8 643.5,331.8 643.0,328.0C642.5,324.2 642.2,319.0 642.2,314.0C642.2,309.0 642.5,304.5 643.0,298.0C643.5,291.5 644.3,281.9 645.0,275.0C645.7,268.1 646.7,259.6 647.0,256.5Z"/>
<path fill="#a01f2a" d="M647.0,266.0C647.4,269.7 648.6,280.3 649.2,288.0C649.8,295.7 650.6,305.3 650.7,312.0C650.8,318.7 650.6,323.2 650.0,328.0C649.4,332.8 647.5,338.4 647.0,340.5C646.5,338.4 644.6,332.8 644.0,328.0C643.4,323.2 643.3,318.7 643.4,312.0C643.5,305.3 644.2,295.7 644.8,288.0C645.4,280.3 646.6,269.7 647.0,266.0Z"/>
<path fill="#b02634" d="M663.7,285.0C664.0,287.2 664.9,293.5 665.4,298.0C665.9,302.5 666.7,307.7 667.0,312.0C667.3,316.3 667.2,320.3 667.0,324.0C666.8,327.7 666.0,331.4 665.5,334.0C665.0,336.6 664.0,338.6 663.7,339.5C663.4,338.6 662.6,336.6 662.0,334.0C661.4,331.4 660.6,327.7 660.3,324.0C660.0,320.3 660.0,316.3 660.3,312.0C660.6,307.7 661.4,302.5 662.0,298.0C662.6,293.5 663.4,287.2 663.7,285.0Z"/>
<path fill="#a01f2a" d="M663.7,293.0C664.0,295.8 664.9,305.0 665.2,310.0C665.6,315.0 666.0,318.2 665.8,323.0C665.5,327.8 664.1,336.3 663.7,339.0C663.4,336.3 661.9,327.8 661.6,323.0C661.4,318.2 661.9,315.0 662.2,310.0C662.6,305.0 663.5,295.8 663.7,293.0Z"/>
</g>
<circle cx="658.9" cy="309" r="132.3" fill="none" stroke="#1a66a8" stroke-width="3.8"/>
<g stroke="#1a1a1a" stroke-width="1.6" fill="none" stroke-linecap="round" stroke-linejoin="round">
<polyline points="647,340.5 654,379.2 663.7,339.3"/>
</g>
<text x="655.1" y="401.7" font-size="21.3" letter-spacing="-0.5" text-anchor="middle">Anal</text>
<text x="656.1" y="423.9" font-size="21.3" letter-spacing="0.7" text-anchor="middle">fissures</text>
</svg>
</body></html>
